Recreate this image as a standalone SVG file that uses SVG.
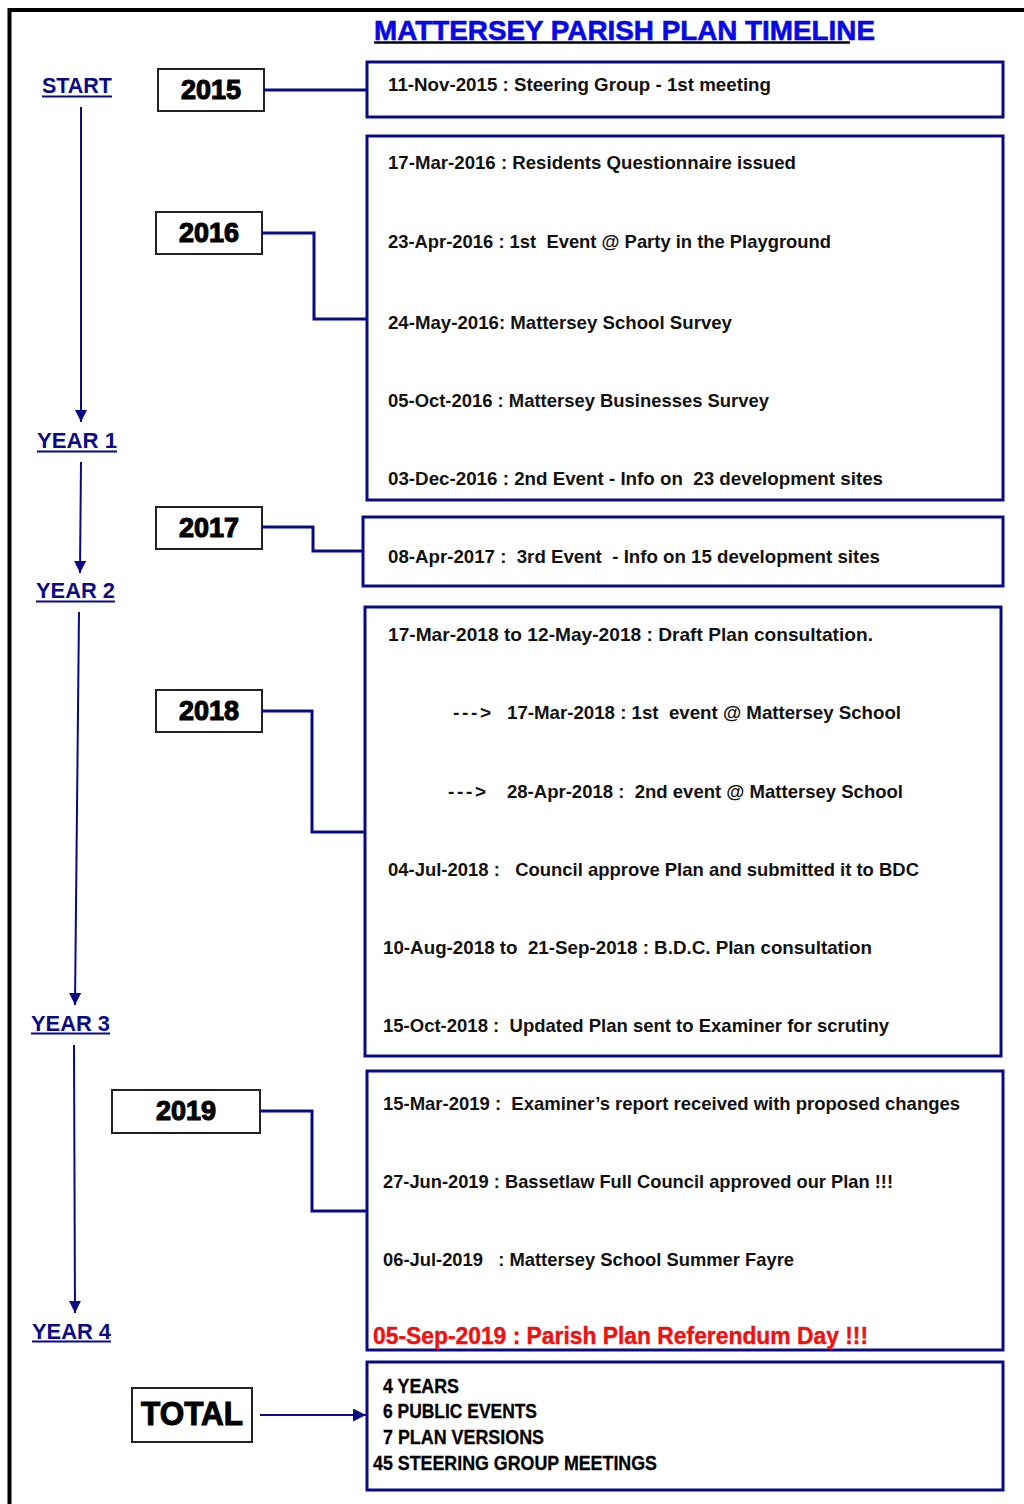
<svg xmlns="http://www.w3.org/2000/svg" width="1024" height="1504" viewBox="0 0 1024 1504">
<defs>
<style>
.ev{font-family:"Liberation Sans","Roboto",sans-serif;font-size:19px;font-weight:bold;fill:#111}
.yr{font-family:"Liberation Sans","DejaVu Sans",sans-serif;font-size:27px;font-weight:900;fill:#000;stroke:#000;stroke-width:1.1;text-anchor:middle}
.lbl{font-family:"Liberation Sans","Roboto",sans-serif;font-size:22px;font-weight:bold;fill:#0a0a86}
.ybox{fill:#fff;stroke:#222;stroke-width:2}
.ebox{fill:#fff;stroke:#0a0a86;stroke-width:3}
.conn{fill:none;stroke:#0a0a86;stroke-width:3}
.ul{stroke:#0a0a86;stroke-width:2}
.tot{font-family:"Liberation Sans","Roboto",sans-serif;font-size:20px;font-weight:bold;fill:#000;stroke:#000;stroke-width:0.3}
</style>
<marker id="ah" viewBox="0 0 12 12" refX="12" refY="6" markerWidth="12" markerHeight="12" markerUnits="userSpaceOnUse" orient="auto">
<path d="M0,0 L12,6 L0,12 z" fill="#0a0a86"/>
</marker>
<marker id="ah2" viewBox="0 0 12 12" refX="12" refY="6" markerWidth="13" markerHeight="13" markerUnits="userSpaceOnUse" orient="auto">
<path d="M0,0 L12,6 L0,12 z" fill="#0a0a86"/>
</marker>
</defs>
<rect width="1024" height="1504" fill="#fff"/>
<path d="M9.5,1504 V10 H1024" fill="none" stroke="#000" stroke-width="4"/>

<g id="title">
<text x="374" y="40" textLength="501" lengthAdjust="spacingAndGlyphs" style="font-family:'Liberation Sans',sans-serif;font-size:28px;font-weight:bold;fill:#0808e6;stroke:#0808e6;stroke-width:0.6">MATTERSEY PARISH PLAN TIMELINE</text>
<line x1="374" y1="42.5" x2="850" y2="42.5" stroke="#000" stroke-width="2.5"/>
</g>

<g id="labels">
<g id="start"><text class="lbl" x="42" y="93" textLength="70" lengthAdjust="spacingAndGlyphs">START</text><line class="ul" x1="42" y1="96.5" x2="112" y2="96.5"/></g>
<g id="year1"><text class="lbl" x="37" y="448" textLength="80" lengthAdjust="spacingAndGlyphs">YEAR 1</text><line class="ul" x1="37" y1="451.5" x2="117" y2="451.5"/></g>
<g id="year2"><text class="lbl" x="36" y="598" textLength="79" lengthAdjust="spacingAndGlyphs">YEAR 2</text><line class="ul" x1="36" y1="601.5" x2="115" y2="601.5"/></g>
<g id="year3"><text class="lbl" x="31" y="1031" textLength="79" lengthAdjust="spacingAndGlyphs">YEAR 3</text><line class="ul" x1="31" y1="1033.5" x2="110" y2="1033.5"/></g>
<g id="year4"><text class="lbl" x="32" y="1339" textLength="79" lengthAdjust="spacingAndGlyphs">YEAR 4</text><line class="ul" x1="32" y1="1341.5" x2="111" y2="1341.5"/></g>
</g>

<g id="y2015"><rect class="ybox" x="158" y="69" width="106" height="42"/><text class="yr" x="211" y="99">2015</text></g>
<g id="y2016"><rect class="ybox" x="156" y="212" width="106" height="42"/><text class="yr" x="209" y="242">2016</text></g>
<g id="y2017"><rect class="ybox" x="156" y="507" width="106" height="42"/><text class="yr" x="209" y="537">2017</text></g>
<g id="y2018"><rect class="ybox" x="156" y="690" width="106" height="42"/><text class="yr" x="209" y="720">2018</text></g>
<g id="y2019"><rect class="ybox" x="112" y="1090" width="148" height="43"/><text class="yr" x="186" y="1120">2019</text></g>
<g id="total"><rect class="ybox" x="132" y="1388" width="120" height="54"/><text class="yr" x="192" y="1425" style="font-size:34px" textLength="102" lengthAdjust="spacingAndGlyphs">TOTAL</text></g>

<g id="box2015">
<rect class="ebox" x="367" y="62" width="636" height="55"/>
<text class="ev" x="388" y="91" textLength="383" lengthAdjust="spacingAndGlyphs">11-Nov-2015 : Steering Group - 1st meeting</text>
</g>
<g id="box2016">
<rect class="ebox" x="367" y="136" width="636" height="364"/>
<text class="ev" x="388" y="169" textLength="408" lengthAdjust="spacingAndGlyphs">17-Mar-2016 : Residents Questionnaire issued</text>
<text class="ev" x="388" y="248" textLength="443" lengthAdjust="spacingAndGlyphs" xml:space="preserve">23-Apr-2016 : 1st  Event @ Party in the Playground</text>
<text class="ev" x="388" y="329" textLength="344" lengthAdjust="spacingAndGlyphs">24-May-2016: Mattersey School Survey</text>
<text class="ev" x="388" y="407" textLength="381" lengthAdjust="spacingAndGlyphs">05-Oct-2016 : Mattersey Businesses Survey</text>
<text class="ev" x="388" y="485" textLength="495" lengthAdjust="spacingAndGlyphs" xml:space="preserve">03-Dec-2016 : 2nd Event - Info on  23 development sites</text>
</g>
<g id="box2017">
<rect class="ebox" x="363" y="517" width="640" height="69"/>
<text class="ev" x="388" y="563" textLength="492" lengthAdjust="spacingAndGlyphs" xml:space="preserve">08-Apr-2017 :  3rd Event  - Info on 15 development sites</text>
</g>
<g id="box2018">
<rect class="ebox" x="365" y="607" width="636" height="449"/>
<text class="ev" x="388" y="641" textLength="485" lengthAdjust="spacingAndGlyphs">17-Mar-2018 to 12-May-2018 : Draft Plan consultation.</text>
<text class="ev" x="453" y="719" textLength="38" lengthAdjust="spacing">---&gt;</text>
<text class="ev" x="507" y="719" textLength="394" lengthAdjust="spacingAndGlyphs" xml:space="preserve">17-Mar-2018 : 1st  event @ Mattersey School</text>
<text class="ev" x="448" y="798" textLength="38" lengthAdjust="spacing">---&gt;</text>
<text class="ev" x="507" y="798" textLength="396" lengthAdjust="spacingAndGlyphs" xml:space="preserve">28-Apr-2018 :  2nd event @ Mattersey School</text>
<text class="ev" x="388" y="876" textLength="531" lengthAdjust="spacingAndGlyphs" xml:space="preserve">04-Jul-2018 :   Council approve Plan and submitted it to BDC</text>
<text class="ev" x="383" y="954" textLength="489" lengthAdjust="spacingAndGlyphs" xml:space="preserve">10-Aug-2018 to  21-Sep-2018 : B.D.C. Plan consultation</text>
<text class="ev" x="383" y="1032" textLength="506" lengthAdjust="spacingAndGlyphs" xml:space="preserve">15-Oct-2018 :  Updated Plan sent to Examiner for scrutiny</text>
</g>
<g id="box2019">
<rect class="ebox" x="367" y="1071" width="636" height="279"/>
<text class="ev" x="383" y="1110" textLength="577" lengthAdjust="spacingAndGlyphs" xml:space="preserve">15-Mar-2019 :  Examiner’s report received with proposed changes</text>
<text class="ev" x="383" y="1188" textLength="510" lengthAdjust="spacingAndGlyphs">27-Jun-2019 : Bassetlaw Full Council approved our Plan !!!</text>
<text class="ev" x="383" y="1266" textLength="411" lengthAdjust="spacingAndGlyphs" xml:space="preserve">06-Jul-2019   : Mattersey School Summer Fayre</text>
<text x="373" y="1344" textLength="495" lengthAdjust="spacingAndGlyphs" style="font-family:'Liberation Sans',sans-serif;font-size:24px;font-weight:bold;fill:#f01010;stroke:#f01010;stroke-width:0.4">05-Sep-2019 : Parish Plan Referendum Day !!!</text>
</g>
<g id="boxtotal">
<rect class="ebox" x="367" y="1362" width="636" height="128"/>
<text class="tot" x="383" y="1393" textLength="76" lengthAdjust="spacingAndGlyphs">4 YEARS</text>
<text class="tot" x="383" y="1418" textLength="154" lengthAdjust="spacingAndGlyphs">6 PUBLIC EVENTS</text>
<text class="tot" x="383" y="1444" textLength="161" lengthAdjust="spacingAndGlyphs">7 PLAN VERSIONS</text>
<text class="tot" x="373" y="1470" textLength="284" lengthAdjust="spacingAndGlyphs">45 STEERING GROUP MEETINGS</text>
</g>

<g id="connectors">
<line class="conn" style="stroke-width:2" x1="81" y1="107" x2="81" y2="422" marker-end="url(#ah)"/>
<line class="conn" style="stroke-width:2" x1="81" y1="462" x2="80" y2="573" marker-end="url(#ah)"/>
<line class="conn" style="stroke-width:2" x1="79" y1="612" x2="75" y2="1005" marker-end="url(#ah)"/>
<line class="conn" style="stroke-width:2" x1="74" y1="1045" x2="75" y2="1313" marker-end="url(#ah)"/>
<path class="conn" d="M264,90 H367"/>
<path class="conn" d="M262,233 H314 V319 H367"/>
<path class="conn" d="M262,527 H313 V551 H363"/>
<path class="conn" d="M262,711 H312 V832 H365"/>
<path class="conn" d="M260,1111 H312 V1211 H367"/>
<line class="conn" style="stroke-width:2" x1="260" y1="1415" x2="366" y2="1415" marker-end="url(#ah2)"/>
</g>
</svg>
